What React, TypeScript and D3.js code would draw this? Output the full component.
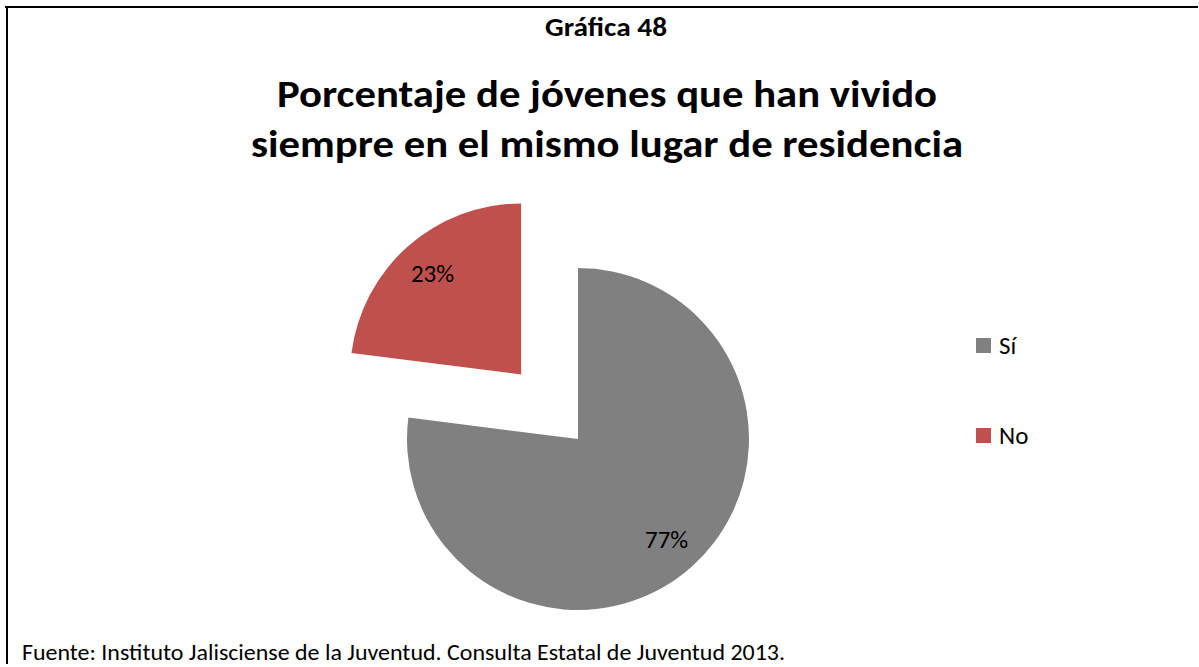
import React from "react";
import * as d3 from "d3";

const categories = ["Sí", "No"];
const values = [77, 23];
const colors = ["#808080", "#C0504D"];
const superTitle = "Gráfica 48";
const titleLines = ["Porcentaje de jóvenes que han vivido", "siempre en el mismo lugar de residencia"];
const source = "Fuente: Instituto Jalisciense de la Juventud. Consulta Estatal de Juventud 2013.";

const W = 1199, H = 667;
const FONT = "Carlito, Calibri, Lato, 'Liberation Sans', Arial, sans-serif";

export default function App() {
  const cx = 578, cy = 439, R = 171;
  const explode = [0, 86];
  const pie = d3.pie<number>().sort(null).startAngle(0).endAngle(2 * Math.PI);
  const arcs = pie(values);
  const arc = d3.arc<d3.PieArcDatum<number>>().innerRadius(0).outerRadius(R);
  const labelArc = d3.arc<d3.PieArcDatum<number>>().innerRadius(134).outerRadius(134);
  const total = d3.sum(values);

  return (
    <svg width={W} height={H} style={{ position: "absolute", left: 0, top: 0, background: "#fff" }} fontFamily={FONT}>
      <rect x={0} y={0} width={W} height={H} fill="#fff" />
      <line x1={5} y1={7} x2={1198} y2={7} stroke="#000" strokeWidth={2} />
      <line x1={7} y1={6} x2={7} y2={664} stroke="#000" strokeWidth={2} />
      <rect x={18} y={640} width={780} height={27} fill="#fff" />
      <text x={606} y={36} textAnchor="middle" fontWeight="bold" fontSize={26} textLength={122} lengthAdjust="spacingAndGlyphs">{superTitle}</text>
      {titleLines.map((t, i) => (
        <text key={i} x={607} y={107 + i * 50} textAnchor="middle" fontWeight="bold" fontSize={38}
          textLength={i === 0 ? 660 : 712} lengthAdjust="spacingAndGlyphs">{t}</text>
      ))}
      {arcs.map((a, i) => {
        const mid = (a.startAngle + a.endAngle) / 2;
        const dx = explode[i] * Math.sin(mid);
        const dy = -explode[i] * Math.cos(mid);
        const [lx, ly] = labelArc.centroid(a);
        return (
          <g key={i} transform={`translate(${cx + dx},${cy + dy})`}>
            <path d={arc(a) || ""} fill={colors[i]} />
            <text x={lx} y={ly} textAnchor="middle" dominantBaseline="central" fontSize={25}>
              {Math.round((a.data / total) * 100) + "%"}
            </text>
          </g>
        );
      })}
      {categories.map((c, i) => (
        <g key={c} transform={`translate(976,${338 + i * 90})`}>
          <rect x={0} y={0} width={15} height={15} fill={colors[i]} />
          <text x={23} y={16} fontSize={25}>{c}</text>
        </g>
      ))}
      <text x={22} y={660} fontSize={23} textLength={763} lengthAdjust="spacingAndGlyphs">{source}</text>
    </svg>
  );
}
